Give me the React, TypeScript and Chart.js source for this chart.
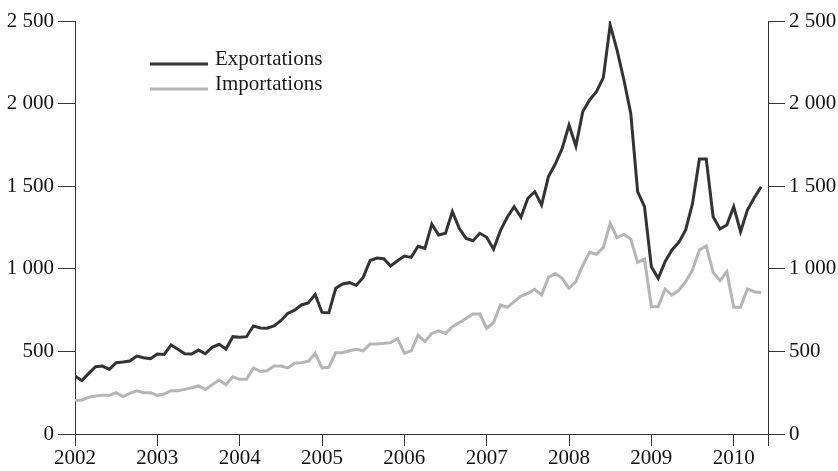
import React, { useEffect, useRef } from "react";
import { Chart, registerables } from "chart.js";

Chart.register(...registerables);

const startYear = 2002;
const yearTicks = [2002, 2003, 2004, 2005, 2006, 2007, 2008, 2009, 2010];
const yTicks = [0, 500, 1000, 1500, 2000, 2500];

const exportations = [
  351, 323, 367, 407, 411, 391, 432, 436, 442, 472, 462, 456,
  484, 482, 539, 513, 486, 484, 508, 486, 525, 543, 514, 589,
  585, 589, 654, 642, 640, 654, 686, 730, 750, 781, 794, 845,
  736, 734, 882, 908, 916, 900, 948, 1049, 1065, 1061, 1017, 1049,
  1077, 1069, 1136, 1124, 1271, 1205, 1215, 1346, 1245, 1184, 1170, 1215,
  1191, 1118, 1231, 1312, 1376, 1312, 1427, 1467, 1386, 1558, 1634, 1729,
  1870, 1743, 1951, 2022, 2072, 2157, 2476, 2324, 2143, 1941, 1467, 1376,
  1013, 942, 1043, 1114, 1160, 1235, 1396, 1665, 1665, 1315, 1241, 1265,
  1376, 1225, 1356, 1430, 1497,
];

const importations = [
  202, 206, 222, 230, 234, 234, 250, 226, 246, 262, 250, 250,
  234, 242, 262, 262, 270, 280, 291, 270, 298, 327, 298, 347,
  331, 331, 400, 379, 383, 412, 412, 400, 428, 432, 440, 488,
  400, 404, 492, 492, 504, 513, 504, 545, 545, 549, 553, 577,
  490, 504, 599, 559, 609, 625, 609, 650, 674, 700, 726, 726,
  640, 674, 781, 767, 801, 835, 851, 876, 841, 948, 972, 942,
  882, 922, 1020, 1100, 1088, 1128, 1275, 1188, 1209, 1180, 1039, 1059,
  771, 771, 878, 841, 870, 922, 993, 1114, 1138, 979, 928, 982,
  767, 767, 878, 861, 855,
];

const seriesLabels = ["Exportations", "Importations"];
const seriesColors = ["#333333", "#b5b5b5"];

const FONT = "'Liberation Serif', 'Times New Roman', serif";
const AXIS_COLOR = "#333333";
const X_MAX = 101;

const fmt = (v: number) => {
  if (v >= 1000) {
    const th = Math.floor(v / 1000);
    const rest = String(v % 1000).padStart(3, "0");
    return th + " " + rest;
  }
  return String(v);
};

const legendPlugin = {
  id: "customLegend",
  afterDraw(chart: any) {
    const ctx = chart.ctx;
    ctx.save();
    const rows = [64, 89];
    chart.data.datasets.forEach((ds: any, i: number) => {
      const y = rows[i];
      ctx.strokeStyle = ds.borderColor;
      ctx.lineWidth = 3;
      ctx.beginPath();
      ctx.moveTo(150, y);
      ctx.lineTo(208, y);
      ctx.stroke();
      ctx.fillStyle = "#1a1a1a";
      ctx.font = "21px " + FONT;
      ctx.textBaseline = "alphabetic";
      ctx.textAlign = "left";
      ctx.fillText(ds.label, 215, y + 1);
    });
    ctx.restore();
  },
};

export default function App() {
  const ref = useRef<HTMLCanvasElement | null>(null);

  useEffect(() => {
    if (!ref.current) return;
    const mk = (arr: number[]) => arr.map((v, i) => ({ x: i, y: v }));
    const yAxis = (position: "left" | "right", width: number) => ({
      type: "linear" as const,
      position,
      min: 0,
      max: 2500,
      afterBuildTicks: (scale: any) => {
        scale.ticks = yTicks.map((v) => ({ value: v }));
      },
      afterFit: (scale: any) => {
        scale.width = width;
      },
      grid: {
        drawOnChartArea: false,
        drawTicks: true,
        tickLength: 17,
        tickColor: AXIS_COLOR,
        tickWidth: 1,
      },
      border: { display: true, color: AXIS_COLOR, width: 1 },
      ticks: {
        padding: 4,
        color: "#111",
        font: { family: FONT, size: 21 },
        callback: (v: any) => fmt(Number(v)),
      },
    });

    const chart = new Chart(ref.current, {
      type: "line",
      data: {
        datasets: [
          {
            label: seriesLabels[0],
            data: mk(exportations),
            borderColor: seriesColors[0],
            borderWidth: 3,
            pointRadius: 0,
            tension: 0,
            fill: false,
          },
          {
            label: seriesLabels[1],
            data: mk(importations),
            borderColor: seriesColors[1],
            borderWidth: 3,
            pointRadius: 0,
            tension: 0,
            fill: false,
          },
        ],
      },
      options: {
        animation: false,
        responsive: false,
        devicePixelRatio: 1,
        layout: { padding: { top: 21, left: 0, right: 0, bottom: 0 } },
        plugins: {
          legend: { display: false },
          tooltip: { enabled: false },
        },
        scales: {
          x: {
            type: "linear",
            min: 0,
            max: X_MAX,
            afterBuildTicks: (scale: any) => {
              const t = yearTicks.map((y) => ({ value: (y - startYear) * 12 }));
              t.push({ value: X_MAX });
              scale.ticks = t;
            },
            afterFit: (scale: any) => {
              scale.height = 37;
            },
            grid: {
              drawOnChartArea: false,
              drawTicks: true,
              tickLength: 12,
              tickColor: AXIS_COLOR,
              tickWidth: 1,
            },
            border: { display: true, color: AXIS_COLOR, width: 1 },
            ticks: {
              padding: 0,
              maxRotation: 0,
              autoSkip: false,
              color: "#111",
              font: { family: FONT, size: 21 },
              callback: (v: any) => {
                const n = Number(v);
                return n % 12 === 0 ? String(startYear + n / 12) : "";
              },
            },
          },
          y: yAxis("left", 75),
          y2: yAxis("right", 70),
        },
      },
      plugins: [legendPlugin],
    } as any);
    return () => chart.destroy();
  }, []);

  return (
    <div style={{ position: "absolute", left: 0, top: 0, width: 838, height: 471, background: "#fff" }}>
      <canvas ref={ref} width={838} height={471} style={{ width: 838, height: 471 }} />
    </div>
  );
}
